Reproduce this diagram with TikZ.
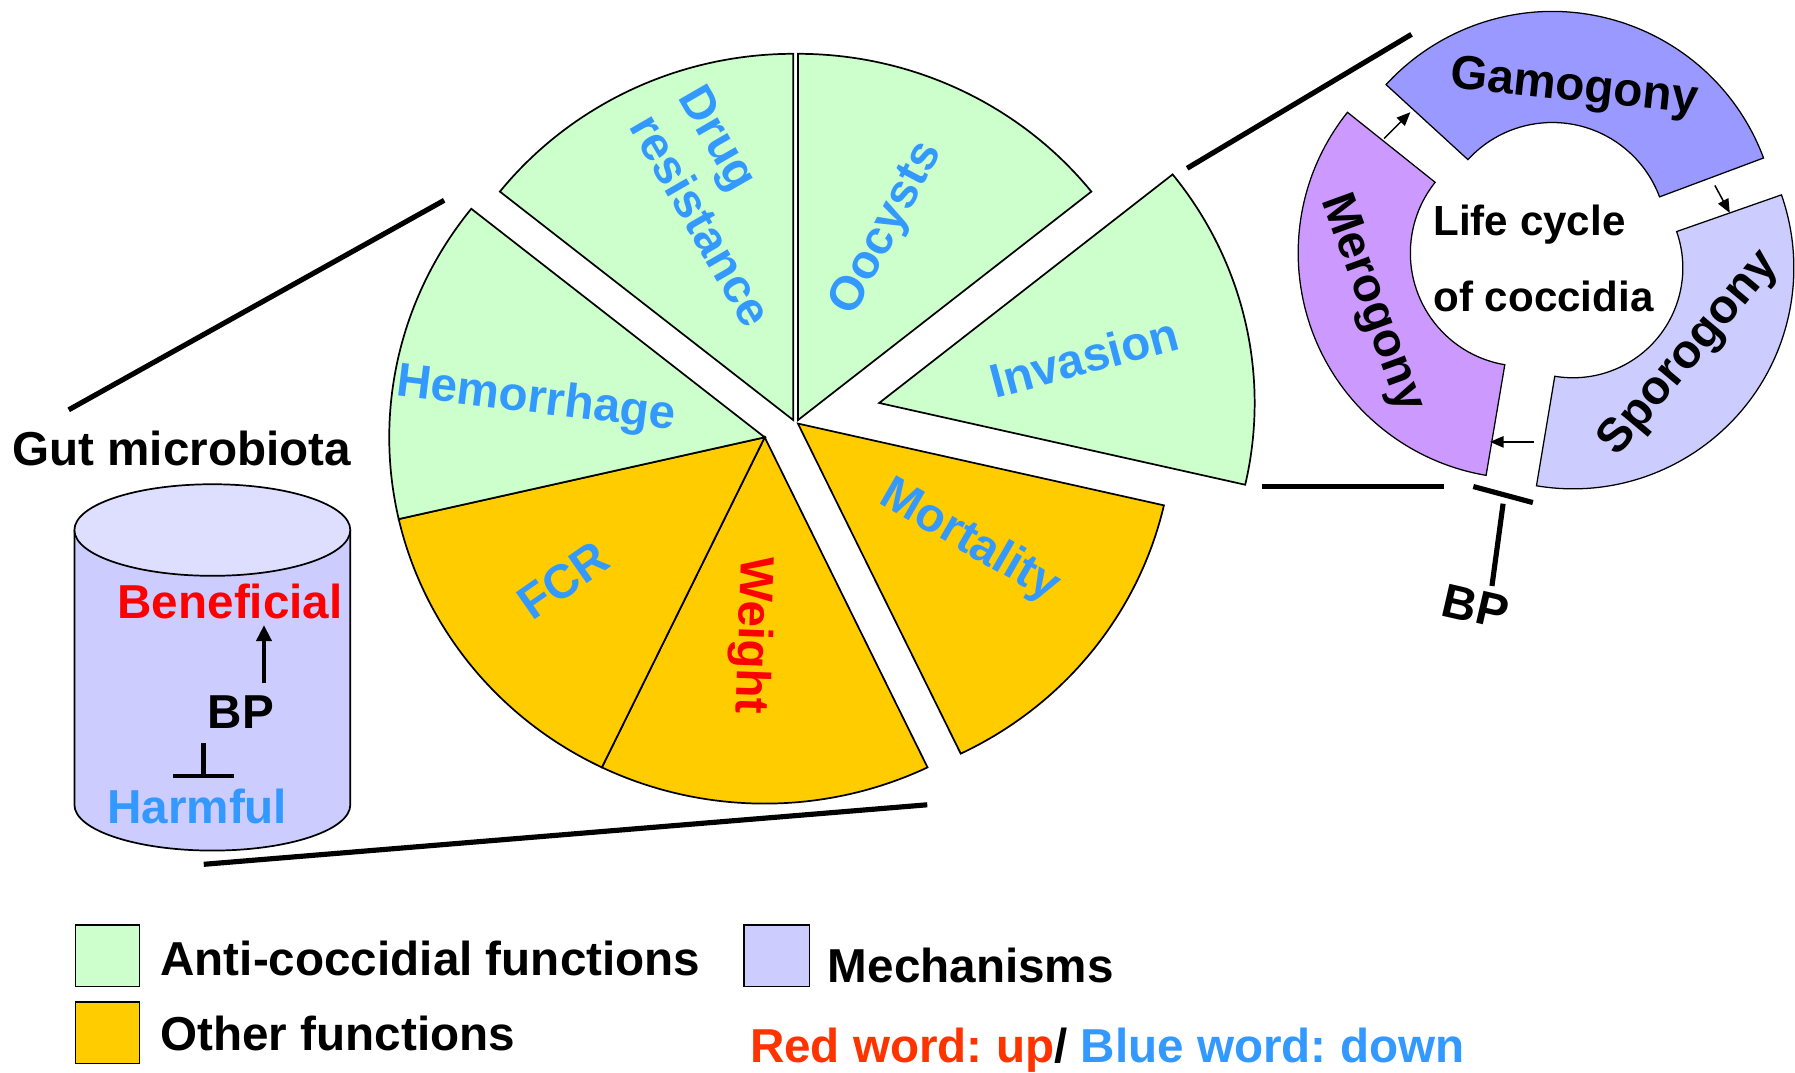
\documentclass[tikz,border=0pt]{standalone}
\usepackage{fontspec}
\setmainfont{Liberation Sans}
\usetikzlibrary{positioning, arrows.meta}
\definecolor{anticol}{RGB}{204,255,204}
\definecolor{othercol}{RGB}{255,204,0}
\definecolor{mechcol}{RGB}{204,204,255}
\definecolor{mechtop}{RGB}{222,222,255}
\definecolor{gamocol}{RGB}{153,153,255}
\definecolor{merocol}{RGB}{204,153,255}
\definecolor{sporocol}{RGB}{204,204,255}
\definecolor{downblue}{RGB}{51,153,255}
\definecolor{upred}{RGB}{255,0,0}
\definecolor{legred}{RGB}{255,51,0}
\frenchspacing

\begin{document}
\begin{tikzpicture}[x=1pt, y=1pt, font=\bfseries\fontsize{41.6}{50}\selectfont,
slice/.style={draw=black, line width=1.5pt, fill=#1},
ringseg/.style={draw=black, line width=1.1pt, fill=#1},
lbl/.style={inner sep=0pt, text=#1},
zoomline/.style={line width=4.5pt},
cycarrow/.style={->, line width=1.3pt, >={Stealth[length=12pt, width=10pt, inset=0pt]}},
legbox/.style={draw=black, line width=1.2pt, fill=#1, minimum width=56pt, minimum height=54pt, inner sep=0pt}
]
\useasboundingbox (0,0) rectangle (1568,-937);

% Pie of functions
\draw[slice=anticol] (693,-367) -- ++(90:328 and 320) arc[start angle=90, end angle=141.4, x radius=328, y radius=320] -- cycle;
\draw[slice=anticol] (697,-367) -- ++(38.6:328 and 320) arc[start angle=38.6, end angle=90, x radius=328, y radius=320] -- cycle;
\draw[slice=anticol] (768,-352) -- ++(-12.9:328 and 320) arc[start angle=-12.9, end angle=38.6, x radius=328, y radius=320] -- cycle;
\draw[slice=othercol] (697,-370) -- ++(-64.3:328 and 320) arc[start angle=-64.3, end angle=-12.9, x radius=328, y radius=320] -- cycle;
\draw[slice=othercol] (668,-382) -- ++(-115.7:328 and 320) arc[start angle=-115.7, end angle=-64.3, x radius=328, y radius=320] -- cycle;
\draw[slice=othercol] (668,-382) -- ++(192.9:328 and 320) arc[start angle=192.9, end angle=244.3, x radius=328, y radius=320] -- cycle;
\draw[slice=anticol] (668,-382) -- ++(141.4:328 and 320) arc[start angle=141.4, end angle=192.9, x radius=328, y radius=320] -- cycle;

% Pie labels
\node[lbl=downblue, rotate=-60, align=left] (drug) at (634,-180) {Drug\\resistance};
\node[lbl=downblue, rotate=62] (oocysts) at (775,-200) {Oocysts};
\node[lbl=downblue, rotate=15] (invasion) at (947,-312) {Invasion};
\node[lbl=downblue, rotate=-7] (hemorrhage) at (468,-350) {Hemorrhage};
\node[lbl=downblue, rotate=35] (fcr) at (492,-507) {FCR};
\node[lbl=upred, rotate=-92] (weight) at (656,-555) {Weight};
\node[lbl=downblue, rotate=-30] (mortality) at (847,-473) {Mortality};

% Gut microbiota cylinder
\draw[line width=1.5pt, fill=mechcol] (65,-463) -- (65,-703) arc[start angle=180, end angle=360, x radius=120.5, y radius=40] -- (306,-463);
\draw[line width=1.5pt, fill=mechtop] (185.5,-463) ellipse[x radius=120.5, y radius=40];
\node[lbl=black, anchor=base] (gut) at (158.7,-406.2) {Gut microbiota};
\node[lbl=upred, anchor=base] (benef) at (201,-540.1) {Beneficial};
\node[lbl=black, anchor=base] (bpgut) at (210.4,-636.2) {BP};
\node[lbl=downblue, anchor=base] (harm) at (172.3,-719.2) {Harmful};
\coordinate (upA) at (230.6,-597);
\coordinate (upB) at (230.6,-546);
\draw[->, line width=4pt, >={Stealth[length=14pt, width=13pt, inset=0pt]}] (upA) -- (upB);
\coordinate (inhA) at (177.6,-649);
\coordinate (inhB) at (177.6,-678);
\draw[line width=4pt] (inhA) -- (inhB);
\draw[line width=4pt] (151.4,-678) -- (204.4,-678);

% Zoom lines
\coordinate (zlA) at (60,-358);
\coordinate (zlB) at (388,-175);
\coordinate (zlC) at (178,-755);
\coordinate (zlD) at (810,-703);
\coordinate (zlE) at (1037,-147);
\coordinate (zlF) at (1233,-30);
\coordinate (zlG) at (1102,-425);
\coordinate (zlH) at (1261,-425);
\draw[zoomline] (zlA) -- (zlB);
\draw[zoomline] (zlC) -- (zlD);
\draw[zoomline] (zlE) -- (zlF);
\draw[zoomline] (zlG) -- (zlH);

% Life cycle ring
\coordinate (gamoc) at (1356,-207);
\coordinate (meroc) at (1331,-221);
\coordinate (sporoc) at (1374,-234);
\draw[ringseg=gamocol] (gamoc) ++(20.5:197) arc[start angle=20.5, end angle=137.5, radius=197] -- ++(137.5:-97) arc[start angle=137.5, end angle=20.5, radius=100] -- cycle;
\draw[ringseg=merocol] (meroc) ++(141.4:197) arc[start angle=141.4, end angle=260.4, radius=197] -- ++(260.4:-98) arc[start angle=260.4, end angle=141.4, radius=99] -- cycle;
\draw[ringseg=sporocol] (sporoc) ++(260.5:193) arc[start angle=260.5, end angle=379.3, radius=193] -- ++(379.3:-97) arc[start angle=379.3, end angle=260.5, radius=96] -- cycle;

\node[lbl=black, rotate=-6, anchor=base] (gamo) at (1374,-88) {Gamogony};
\node[lbl=black, rotate=-70] (mero) at (1198,-265) {Merogony};
\node[lbl=black, rotate=50] (sporo) at (1476,-309) {Sporogony};
\node[lbl=black, anchor=base west, font=\bfseries\fontsize{36.8}{44}\selectfont] (lifeA) at (1252,-205.3) {Life cycle};
\node[lbl=black, anchor=base west, font=\bfseries\fontsize{36.8}{44}\selectfont] (lifeB) at (1252,-272.2) {of coccidia};

\coordinate (mgA) at (1209,-121);
\coordinate (mgB) at (1232,-98);
\coordinate (gsA) at (1498,-162);
\coordinate (gsB) at (1511,-186);
\coordinate (smA) at (1340,-386);
\coordinate (smB) at (1301.5,-386);
\draw[cycarrow] (mgA) -- (mgB);
\draw[cycarrow] (gsA) -- (gsB);
\draw[cycarrow] (smA) -- (smB);

% BP blocks the cycle
\coordinate (barA) at (1287,-425);
\coordinate (barB) at (1339,-439);
\coordinate (stemA) at (1313,-440);
\node[lbl=black, rotate=-13] (bpring) at (1289,-530) {BP};
\draw[zoomline] (barA) -- (barB);
\draw[zoomline] (stemA) -- ([shift={(11pt,4pt)}]bpring.north);

% Legend
\node[legbox=anticol] (legA) at (94,-835) {};
\node[legbox=othercol, below=12pt of legA] (legO) {};
\node[legbox=mechcol, minimum width=57pt] (legM) at (678.5,-835) {};
\node[lbl=black, anchor=base west] (legAt) at (140,-852) {Anti-coccidial functions};
\node[lbl=black, anchor=base west] (legOt) at (140,-918) {Other functions};
\node[lbl=black, anchor=base west] (legMt) at (723,-858) {Mechanisms};
\node[lbl=black, anchor=base west] (legRB) at (655,-928) {\textcolor{legred}{Red word: up}/ \textcolor{downblue}{Blue word: down}};

\end{tikzpicture}
\end{document}
